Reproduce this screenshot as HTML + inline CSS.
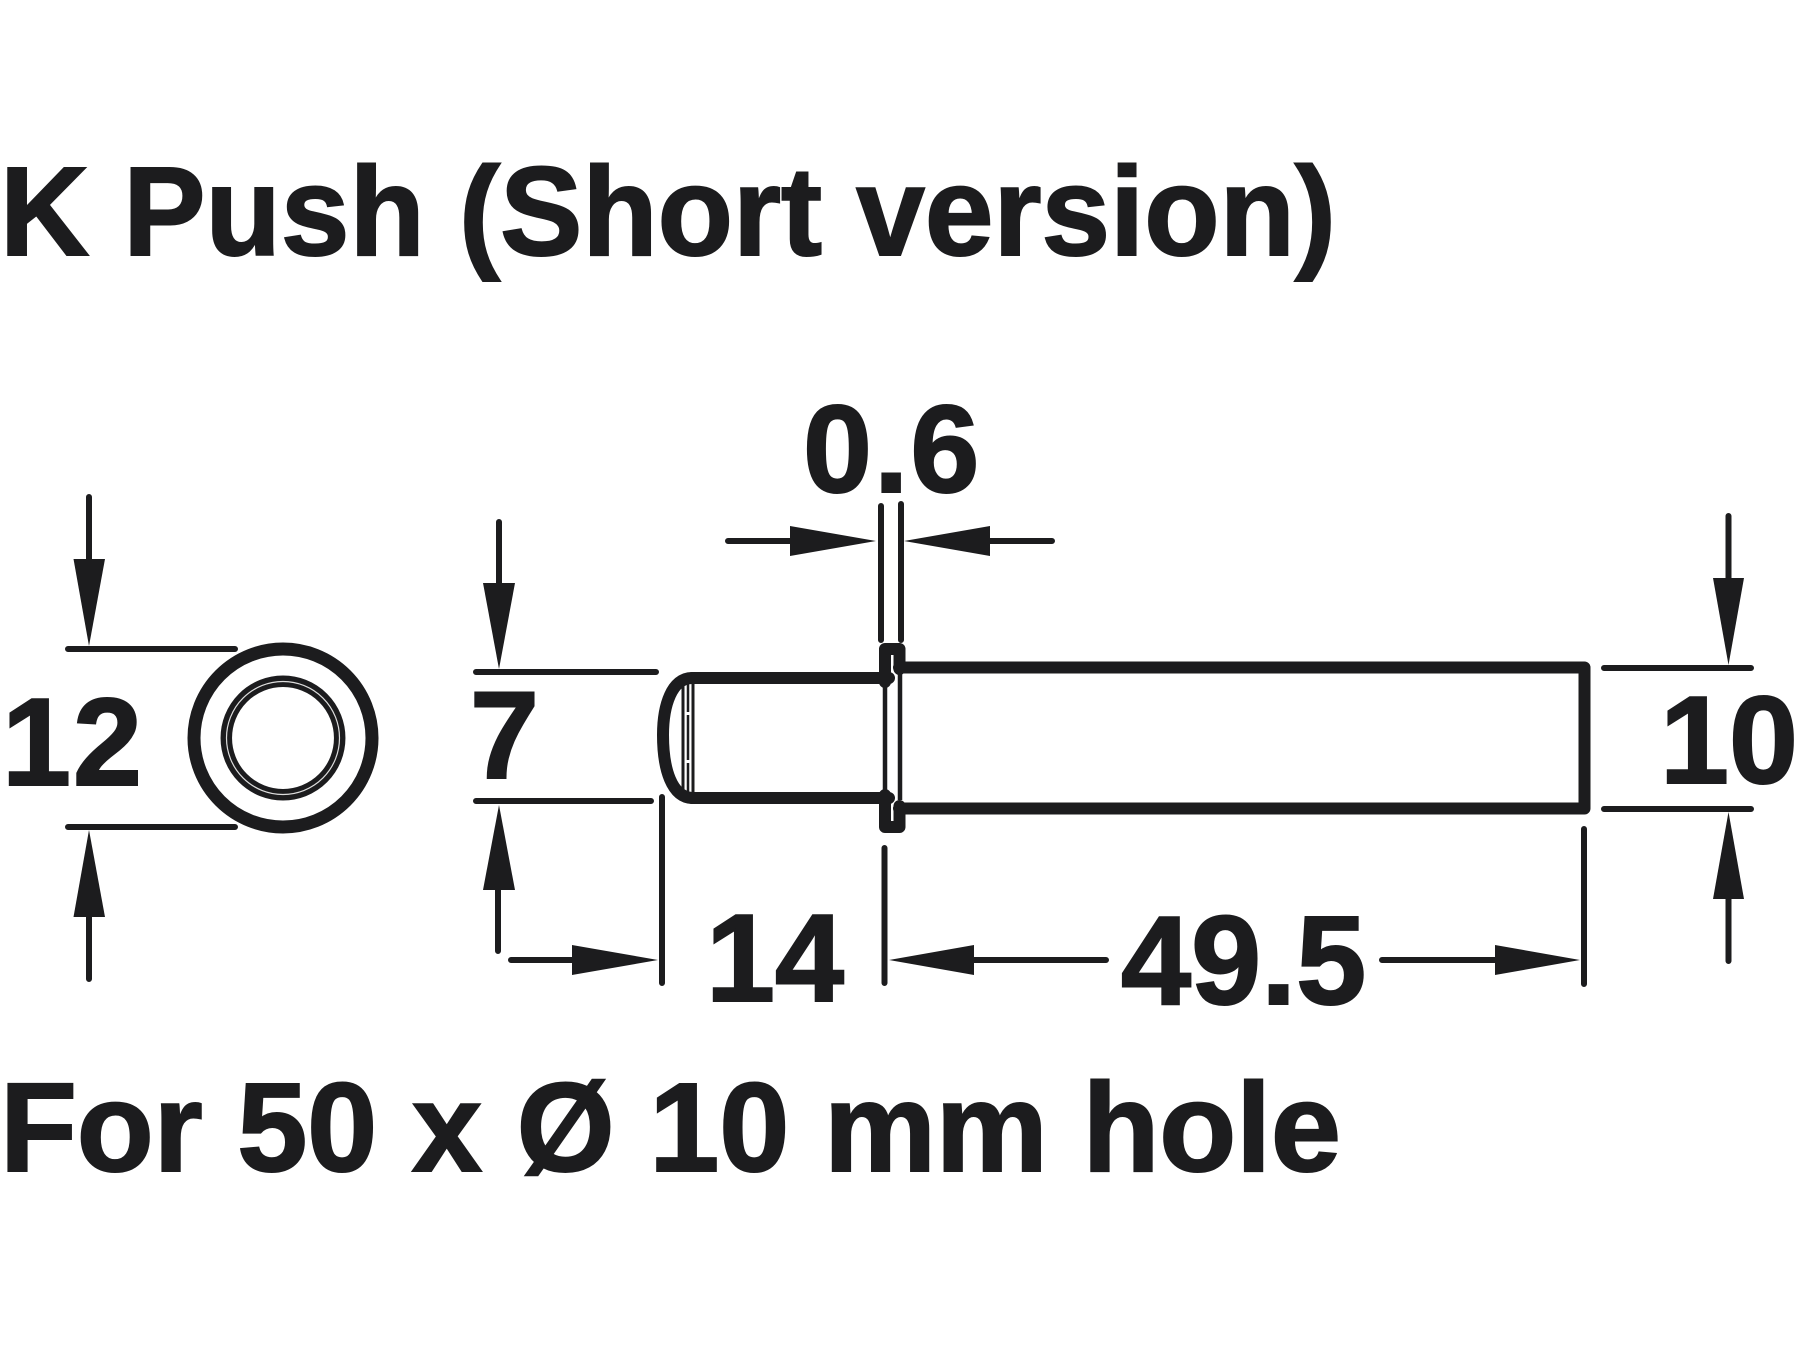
<!DOCTYPE html>
<html><head><meta charset="utf-8"><style>
html,body{margin:0;padding:0;background:#fff}
svg{display:block}
text{font-family:"Liberation Sans",Arial,sans-serif;font-weight:bold;fill:#1c1c1e;stroke:#1c1c1e;stroke-width:2}
</style></head><body>
<svg width="1800" height="1350" viewBox="0 0 1800 1350" xmlns="http://www.w3.org/2000/svg">
<rect width="1800" height="1350" fill="#fff"/>
<text x="0" y="255" font-size="126" textLength="1336" lengthAdjust="spacingAndGlyphs">K Push (Short version)</text>
<text x="0" y="1171" font-size="126" textLength="1341" lengthAdjust="spacing">For 50 x Ø 10 mm hole</text>
<text x="2" y="785" font-size="124" letter-spacing="2">12</text>
<text x="470" y="778" font-size="124">7</text>
<text x="803" y="492" font-size="124" letter-spacing="2">0.6</text>
<text x="706" y="1001" font-size="124">14</text>
<text x="1121" y="1004" font-size="126">49.5</text>
<text x="1660" y="783" font-size="124">10</text>
<g fill="none" stroke="#1c1c1e" stroke-linecap="round" stroke-linejoin="round">
<circle cx="283" cy="738" r="89" stroke-width="13"/>
<circle cx="283" cy="738" r="56.7" stroke-width="11.5"/>
<circle cx="283" cy="738" r="56.5" stroke-width="1.2" stroke="#ddd"/>
<g stroke-width="6">
<path d="M89 497V560M68 649H235M68 827H235M89 917V979"/>
<path d="M499 522V584M476 672H656M476 801H651M498 890V951"/>
<path d="M881 506V640M901 504V640M728 541H790M990 541H1052"/>
<path d="M662 797V983M884.5 848V983M511 960H573M974 960H1106M1382 960H1495M1584 829V984"/>
<path d="M1728.5 516V578M1604 668H1751M1604 809H1751M1728.5 899V961"/>
</g>
<path d="M692 678H889M692 798H889" stroke-width="12"/>
<path d="M692 678C672 678 663 705 663 735C663 770 672 797 692 798" stroke-width="12"/>
<path d="M683 686V790" stroke-width="3" stroke-linecap="butt"/>
<path d="M688 684V792" stroke-width="2.5" stroke-dasharray="28 3 45 3 30" stroke-linecap="butt"/>
<path d="M693 684V792" stroke-width="3" stroke-linecap="butt"/>
<path d="M885 682V795M900 670V800" stroke-width="4.5" stroke-linecap="butt"/>
<path d="M885 682V649H899.5V669" stroke-width="12"/>
<path d="M885 795V827H899.5V806" stroke-width="12"/>
<path d="M899 667.5H1584.5V808.5H899" stroke-width="12"/>
</g>
<g fill="#1c1c1e">
<path d="M73.5 559H105L89 646Z"/>
<path d="M73.5 917H105L89 830Z"/>
<path d="M483 583H515L499 669Z"/>
<path d="M483 890H515L499 805Z"/>
<path d="M790 526V556L876 541Z"/>
<path d="M990 526V556L904 541Z"/>
<path d="M572 945V975L658 960Z"/>
<path d="M974 945V975L889 960Z"/>
<path d="M1495 945V975L1580 960Z"/>
<path d="M1713 578H1744L1728.5 665Z"/>
<path d="M1713 899H1744L1728.5 812Z"/>
</g>
</svg>
</body></html>
